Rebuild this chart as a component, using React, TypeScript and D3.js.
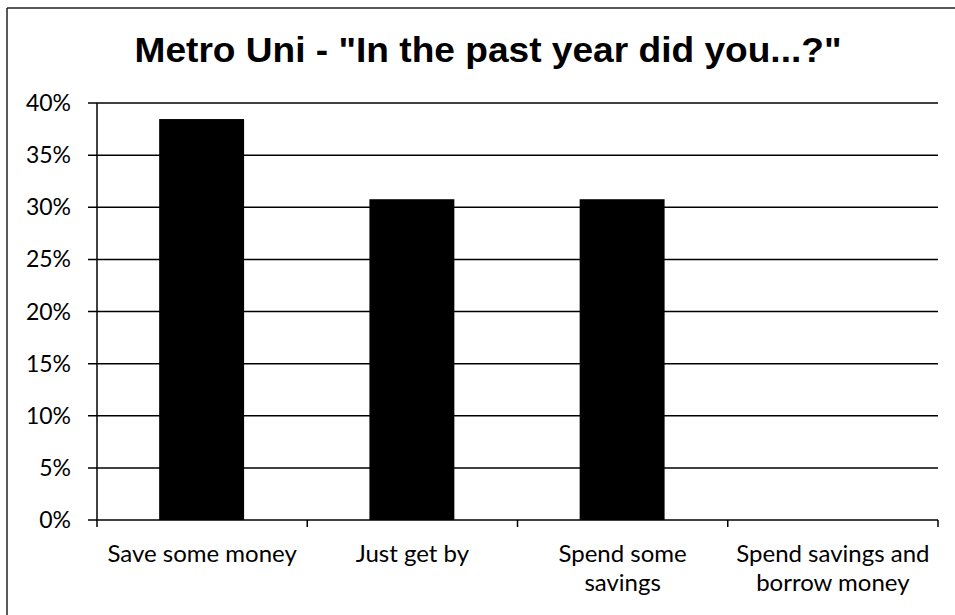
import React from "react";
import * as d3 from "d3";

const categories: string[][] = [
  ["Save some money"],
  ["Just get by"],
  ["Spend some", "savings"],
  ["Spend savings and", "borrow money"],
];
const values: number[] = [0.3846, 0.3077, 0.3077, 0];
const yTicks: number[] = [0, 0.05, 0.1, 0.15, 0.2, 0.25, 0.3, 0.35, 0.4];
const title = 'Metro Uni - "In the past year did you...?"';

const W = 955;
const H = 615;
const left = 97;
const right = 938;
const top = 103;
const bottom = 520;

export default function App() {
  const x = d3
    .scaleBand<number>()
    .domain(categories.map((_, i) => i))
    .range([left, right])
    .padding(0);
  const y = d3.scaleLinear().domain([0, 0.4]).range([bottom, top]);
  const bw = x.bandwidth() * 0.404;
  const fmt = d3.format(".0%");
  const labelFont = "Lato, 'Open Sans', sans-serif";

  return (
    <svg
      width={W}
      height={H}
      style={{ position: "absolute", left: 0, top: 0, background: "#fff" }}
    >
      <rect x={0} y={0} width={W} height={H} fill="#fff" />
      {/* frame */}
      <line x1={7} y1={8} x2={W} y2={8} stroke="#222" strokeWidth={1.5} />
      <line x1={7} y1={8} x2={7} y2={H} stroke="#222" strokeWidth={1.5} />

      <text
        x={488}
        y={62}
        textAnchor="middle"
        fontFamily="'Liberation Sans', Arial, sans-serif"
        fontWeight="bold"
        fontSize={35}
        textLength={707}
        lengthAdjust="spacingAndGlyphs"
        fill="#000"
      >
        {title}
      </text>

      {/* gridlines and y ticks */}
      {yTicks.map((t) => (
        <g key={t}>
          <line
            x1={left - 9}
            x2={right}
            y1={y(t)}
            y2={y(t)}
            stroke="#000"
            strokeWidth={1.5}
          />
          <text
            x={71}
            y={y(t)}
            dy="0.35em"
            textAnchor="end"
            fontFamily={labelFont}
            fontSize={23}
            fill="#000"
          >
            {fmt(t)}
          </text>
        </g>
      ))}
      {/* y axis */}
      <line x1={left} x2={left} y1={top} y2={bottom} stroke="#000" strokeWidth={1.5} />

      {/* bars */}
      {values.map((v, i) => (
        <rect
          key={i}
          x={(x(i) as number) + (x.bandwidth() - bw) / 2 - 0.5}
          y={y(v)}
          width={bw}
          height={bottom - y(v)}
          fill="#000"
        />
      ))}

      {/* x axis ticks */}
      {d3.range(categories.length + 1).map((i) => {
        const xx = left + i * x.step();
        return (
          <line key={i} x1={xx} x2={xx} y1={bottom} y2={bottom + 7} stroke="#000" strokeWidth={1.5} />
        );
      })}

      {/* x labels */}
      {categories.map((lines, i) => (
        <text
          key={i}
          x={(x(i) as number) + x.bandwidth() / 2}
          y={562}
          textAnchor="middle"
          fontFamily={labelFont}
          fontSize={24}
          fill="#000"
        >
          {lines.map((l, j) => (
            <tspan key={j} x={(x(i) as number) + x.bandwidth() / 2} dy={j === 0 ? 0 : 29}>
              {l}
            </tspan>
          ))}
        </text>
      ))}
    </svg>
  );
}
